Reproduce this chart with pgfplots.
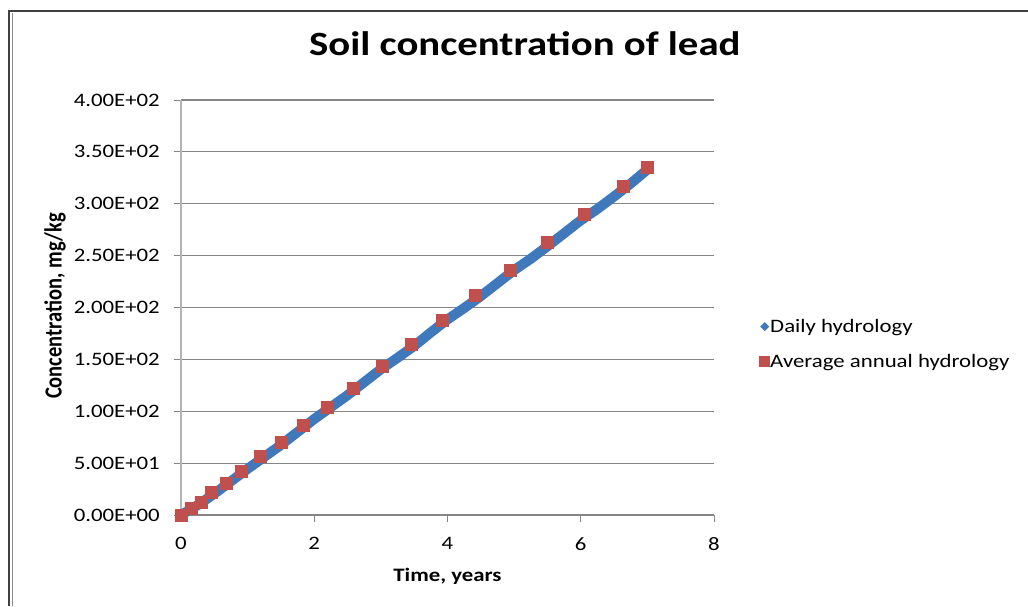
\documentclass[border=0pt]{standalone}
\usepackage{fontspec}
\setmainfont{Carlito}
\usepackage{graphicx}
\usepackage{pgfplots}
\pgfplotsset{compat=1.18}
\definecolor{blue1}{HTML}{3F79BC}
\definecolor{red1}{HTML}{C0504D}
\definecolor{gridc}{HTML}{868686}
\definecolor{yaxc}{HTML}{B4B4B4}
\newcommand\hs[1]{\scalebox{1.2}[1]{#1}}

\pgfplotstableread{
x y
0 0
0.25 9.5
0.5 20.5
0.75 32.5
1.0 44.5
1.25 56
1.5 67.5
1.75 80
2.0 92.5
2.25 104
2.5 115.5
2.75 128
3.0 140.5
3.25 151.5
3.5 163
3.75 176
4.0 188.5
4.25 199.5
4.5 211
4.75 223.5
5.0 236
5.25 247
5.5 259
5.75 271.5
6.0 284
6.25 295
6.5 307
6.75 319.5
7.0 333
}\daily

\pgfplotstableread{
x y
0 0
0.16 7.0
0.30 12.8
0.46 21.5
0.68 31.1
0.90 42.7
1.19 56.2
1.50 70.0
1.83 86.7
2.19 104.0
2.58 122.4
3.02 143.0
3.46 165.0
3.92 187.3
4.42 211.4
4.94 236.4
5.49 262.5
6.05 289.5
6.64 317.4
7.00 334.8
}\annual

\begin{document}
\begin{tikzpicture}[x=1pt,y=1pt]
\begin{axis}[
  anchor=origin,
  scale only axis, width=533pt, height=415pt,
  xmin=0, xmax=8, ymin=0, ymax=400,
  clip=false,
  axis x line=bottom, axis y line=left,
  x axis line style={-, draw=gridc, line width=1.2pt},
  y axis line style={-, draw=yaxc, line width=1.5pt},
  xtick={0,2,4,6,8},
  xticklabels={\hs{0},\hs{2},\hs{4},\hs{6},\hs{8}},
  ytick={0,50,100,150,200,250,300,350,400},
  yticklabels={\hs{0.00E+00},\hs{5.00E+01},\hs{1.00E+02},\hs{1.50E+02},\hs{2.00E+02},\hs{2.50E+02},\hs{3.00E+02},\hs{3.50E+02},\hs{4.00E+02}},
  tick align=outside, major tick length=7pt,
  tick style={draw=gridc, line width=1pt},
  ymajorgrids, grid style={draw=gridc, line width=1.2pt},
  font=\fontsize{19}{22}\selectfont,
  yticklabel style={anchor=east, inner sep=0pt, xshift=-14pt},
  xticklabel style={anchor=north, inner sep=0pt, yshift=-15pt},
  title={\fontsize{34}{40}\selectfont\bfseries\hs{Soil concentration of lead}},
  title style={at={(0.645,1.0916)}, anchor=base, inner sep=0pt},
  xlabel={\bfseries\hs{Time, years}},
  xlabel style={at={(0.5,-0.1614)}, anchor=base, inner sep=0pt},
  ylabel={\fontsize{20.5}{24}\selectfont\bfseries\scalebox{1}[1.2]{Concentration, mg/kg}},
  ylabel style={at={(-0.2364,0.5036)}, anchor=center, inner sep=0pt},
  legend style={at={(1.0845,0.412)}, anchor=west, draw=none, fill=none,
    font=\fontsize{19}{22}\selectfont, row sep=20pt, inner sep=0pt,
    nodes={inner sep=0pt}},
  legend cell align=left,
]
\addplot[blue1, line width=10pt, line join=round, line cap=round,
  legend image code/.code={\path[fill=blue1, draw=none, line width=0pt] (4pt,-4.5pt) -- (8.5pt,0pt) -- (4pt,4.5pt) -- (-0.5pt,0pt) -- cycle;}]
  table[x=x,y=y] {\daily};
\addlegendentry{\hs{Daily hydrology}}
\addplot[only marks, mark=square*, mark size=6pt, mark options={draw=red1, fill=red1},
  legend image code/.code={\path[fill=red1, draw=none, line width=0pt] (-1.5pt,-5.5pt) rectangle (9.5pt,5.5pt);}]
  table[x=x,y=y] {\annual};
\addlegendentry{\hs{Average annual hydrology}}
\end{axis}
\draw[line width=2pt, black!75] (-172,-91) -- (-172,504) -- (847,504);
\draw[line width=1pt, black!45] (-168.5,-91) -- (-168.5,502);
\pgfresetboundingbox
\useasboundingbox (-181,-91) rectangle (847,515);
\end{tikzpicture}
\end{document}
